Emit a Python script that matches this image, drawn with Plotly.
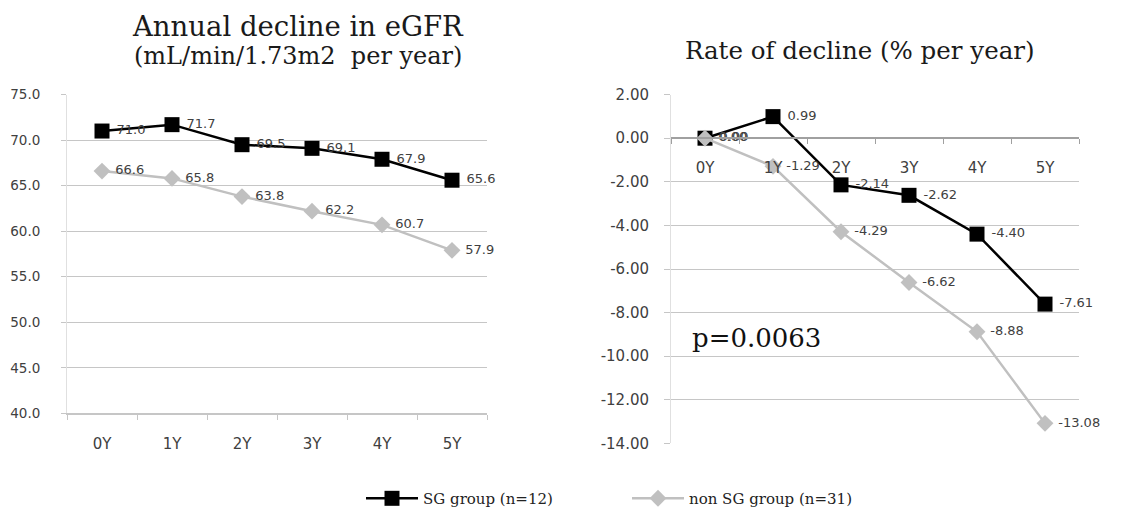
import plotly.graph_objects as go

W, H = 1131, 523

years = ["0Y", "1Y", "2Y", "3Y", "4Y", "5Y"]

# eGFR (mL/min/1.73m2)
egfr_sg = [71.0, 71.7, 69.5, 69.1, 67.9, 65.6]
egfr_non = [66.6, 65.8, 63.8, 62.2, 60.7, 57.9]
egfr_ticks = [40, 45, 50, 55, 60, 65, 70, 75]

# Rate of decline (% per year)
rate_sg = [0.00, 0.99, -2.14, -2.62, -4.40, -7.61]
rate_non = [0.00, -1.29, -4.29, -6.62, -8.88, -13.08]
rate_ticks = [-14, -12, -10, -8, -6, -4, -2, 0, 2]

sg_name = "SG group (n=12)"
non_name = "non SG group (n=31)"

BLACK = "#000000"
GRAY = "#c0c0c0"
GRID = "#c6c6c6"
TXT = "#404040"
SANS = "DejaVu Sans"
SERIF = "DejaVu Serif"
NB = "\u00a0"

# the rendered page area the paper occupies
PX0, PX1 = 0.0, 1131.0
PY0, PY1 = 9.6, 513.4


def fx(p):
    return (p - PX0) / (PX1 - PX0)


def fy(p):
    return 1 - (p - PY0) / (PY1 - PY0)


fig = go.Figure()


def add_series(yvals, name, color, symbol, size, xa, ya, legend, fmt):
    fig.add_trace(go.Scatter(
        x=years, y=yvals, name=name, xaxis=xa, yaxis=ya,
        mode="lines+markers+text",
        line=dict(color=color, width=2.5),
        marker=dict(symbol=symbol, size=size, color=color),
        text=[NB + fmt.format(v) for v in yvals],
        textposition="middle right",
        textfont=dict(family=SANS, size=13, color=TXT),
        cliponaxis=False,
        showlegend=legend,
    ))


add_series(egfr_sg, sg_name, BLACK, "square", 15, "x", "y", True, "{:.1f}")
add_series(egfr_non, non_name, GRAY, "diamond", 13, "x", "y", True, "{:.1f}")
add_series(rate_sg, sg_name, BLACK, "square", 15, "x2", "y2", False, "{:.2f}")
add_series(rate_non, non_name, GRAY, "diamond", 13, "x2", "y2", False, "{:.2f}")

# plot areas (page pixels)
L_X0, L_X1, L_Y0, L_Y1 = 67, 487, 95, 413
R_X0, R_X1, R_Y0, R_Y1 = 671, 1079, 95, 443
r_lo, r_hi = -14, 2
ydom2 = [fy(R_Y1), fy(R_Y0)]
zero_pos = ydom2[0] + (0 - r_lo) / (r_hi - r_lo) * (ydom2[1] - ydom2[0])

fig.update_layout(
    width=W, height=H,
    margin=dict(l=0, r=0, t=0, b=0),
    paper_bgcolor="white", plot_bgcolor="white",
    xaxis=dict(
        domain=[fx(L_X0), fx(L_X1)], anchor="y",
        type="category", tickson="boundaries", range=[-0.5, 5.5],
        ticks="outside", ticklen=5, tickcolor=GRID,
        showline=True, linecolor=GRID, linewidth=1.5,
        showgrid=False, ticklabelstandoff=16,
        tickfont=dict(family=SANS, size=15, color=TXT),
    ),
    yaxis=dict(
        domain=[fy(L_Y1), fy(L_Y0)], anchor="x",
        range=[40, 75], tickvals=egfr_ticks,
        ticktext=["{:.1f}".format(v) for v in egfr_ticks],
        ticks="outside", ticklen=5, tickcolor=GRID,
        showgrid=True, gridcolor=GRID, gridwidth=1,
        showline=True, linecolor="#e0e0e0", linewidth=1,
        zeroline=False, ticklabelstandoff=18,
        tickfont=dict(family=SANS, size=13.5, color=TXT),
    ),
    xaxis2=dict(
        domain=[fx(R_X0), fx(R_X1)], anchor="free", position=zero_pos,
        type="category", tickson="boundaries", range=[-0.5, 5.5],
        ticks="outside", ticklen=5, tickcolor="#a0a0a0",
        showline=True, linecolor="#a0a0a0", linewidth=2,
        showgrid=False, ticklabelstandoff=16,
        tickfont=dict(family=SANS, size=15, color=TXT),
    ),
    yaxis2=dict(
        domain=ydom2, anchor="x2",
        range=[r_lo, r_hi], tickvals=rate_ticks,
        ticktext=["{:.2f}".format(v) for v in rate_ticks],
        ticks="outside", ticklen=6, tickcolor=GRID,
        showgrid=True, gridcolor=GRID, gridwidth=1,
        showline=True, linecolor="#e0e0e0", linewidth=1,
        zeroline=False, ticklabelstandoff=12,
        tickfont=dict(family=SANS, size=15, color=TXT),
    ),
    legend=dict(
        orientation="h", x=fx(361), y=fy(498),
        xanchor="left", yanchor="middle",
        font=dict(family=SERIF, size=15, color="#222222"),
        itemwidth=52,
        entrywidth=199, entrywidthmode="pixels",
        bgcolor="rgba(0,0,0,0)",
    ),
    annotations=[
        dict(text="Annual decline in eGFR", x=fx(298), y=fy(27),
             xref="paper", yref="paper", xanchor="center", yanchor="middle",
             showarrow=False, font=dict(family=SERIF, size=27.5, color="#1a1a1a")),
        dict(text="(mL/min/1.73m2  per year)", x=fx(298), y=fy(56),
             xref="paper", yref="paper", xanchor="center", yanchor="middle",
             showarrow=False, font=dict(family=SERIF, size=24, color="#1a1a1a")),
        dict(text="Rate of decline (% per year)", x=fx(860), y=fy(51),
             xref="paper", yref="paper", xanchor="center", yanchor="middle",
             showarrow=False, font=dict(family=SERIF, size=24.5, color="#1a1a1a")),
        dict(text="p=0.0063", x=fx(690), y=fy(338),
             xref="paper", yref="paper", xanchor="left", yanchor="middle",
             showarrow=False, font=dict(family=SERIF, size=26, color="#111111")),
    ],
)

fig.write_html("out.html")
